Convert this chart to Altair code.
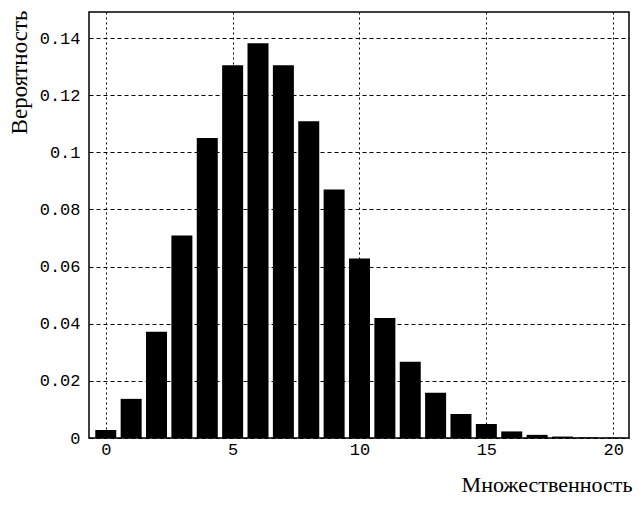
import altair as alt
import pandas as pd

# Multiplicity values and read-off probabilities
mult = list(range(21))
prob = [0.0028, 0.0137, 0.0372, 0.0709, 0.1050, 0.1305, 0.1382, 0.1305,
        0.1109, 0.0870, 0.0628, 0.0420, 0.0267, 0.0158, 0.0084, 0.0049,
        0.0023, 0.0011, 0.0005, 0.0002, 0.0001]

x_ticks = [0, 5, 10, 15, 20]
y_ticks = [0, 0.02, 0.04, 0.06, 0.08, 0.1, 0.12, 0.14]

df = pd.DataFrame({"k": mult, "p": prob})

chart = alt.Chart(df).mark_bar(color="black", size=21, clip=True).encode(
    x=alt.X(
        "k:Q",
        scale=alt.Scale(domain=[-0.464, 20.425], nice=False, zero=False),
        axis=alt.Axis(
            values=x_ticks, format="d", title="Множественность",
            grid=True, gridDash=[2, 3], gridColor="black", gridOpacity=1,
            ticks=False, domain=False,
            labelFont="Liberation Mono", labelFontSize=17, labelColor="black",
            labelPadding=3,
            titleFont="Liberation Serif", titleFontSize=22,
            titleFontWeight="normal", titleColor="black",
            titleX=543, titleY=53, titleAlign="right",
            titleBaseline="alphabetic",
        ),
    ),
    y=alt.Y(
        "p:Q",
        scale=alt.Scale(domain=[0, 0.1491], nice=False),
        axis=alt.Axis(
            values=y_ticks, format="~g", title="Вероятность",
            grid=True, gridDash=[4, 3], gridColor="black", gridOpacity=1,
            ticks=False, domain=False,
            labelFont="Liberation Mono", labelFontSize=17, labelColor="black",
            labelPadding=9,
            titleFont="Liberation Serif", titleFontSize=23,
            titleFontWeight="normal", titleColor="black",
            titleAngle=270, titleX=-81, titleY=-2, titleAlign="right",
            titleBaseline="top",
        ),
    ),
).properties(
    width=540, height=426,
    autosize=alt.AutoSizeParams(type="none"),
    padding={"left": 81, "top": 4, "right": 5, "bottom": 60},
).configure_view(
    stroke="black", strokeWidth=1.5
)

chart.save("out.html", embed_options={"renderer": "svg", "actions": False})
